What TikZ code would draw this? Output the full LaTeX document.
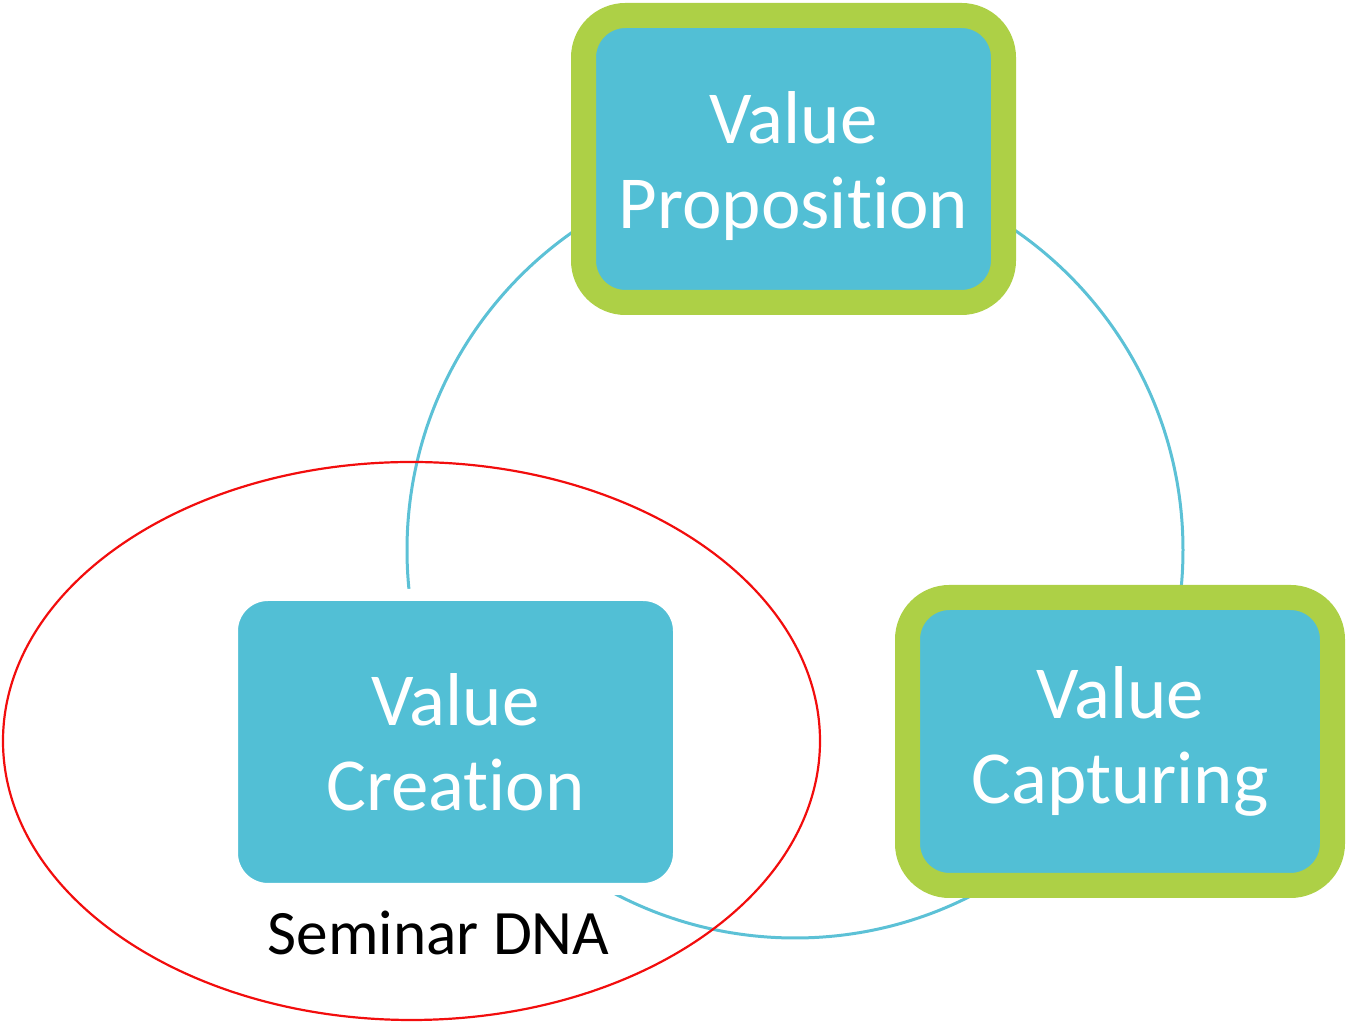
\documentclass[tikz,border=0pt]{standalone}
\usepackage{fontspec}
\setmainfont{Carlito}[Ligatures=NoCommon]
\definecolor{boxcyan}{HTML}{52BFD5}
\definecolor{boxgreen}{HTML}{ADD046}
\definecolor{ringcyan}{HTML}{5CC1D6}
\definecolor{dnared}{HTML}{F20D0D}
% taller first line, so the two lines sit a bit lower in the box
\newcommand{\toplift}{\rule{0pt}{19pt}}

\begin{document}
\begin{tikzpicture}[
    valuebox/.style={rectangle, fill=boxcyan, text=white, align=center,
                     font=\fontsize{21.3}{24.2}\selectfont},
    framed/.style={valuebox, draw=boxgreen, line width=0.25cm, rounded corners=0.42cm,
                   minimum width=4.2cm, minimum height=2.87cm},
    plain/.style={valuebox, draw=white, line width=0.12cm, rounded corners=0.36cm,
                  minimum width=4.47cm, minimum height=2.94cm},
    ring/.style={draw=ringcyan, line width=0.03cm},
    dna/.style={draw=dnared, line width=0.022cm}
]
    \useasboundingbox (0,0) rectangle (13.5,-10.23);

    % cycle behind the three boxes
    \coordinate (hub) at (7.95,-5.5);
    \draw[ring] (hub) circle (3.88cm);

    \node[framed] (prop) at (7.935,-1.59) {\toplift Value\\Proposition};
    \node[framed, minimum width=4.25cm, minimum height=2.88cm] (capt) at (11.2,-7.415) {Value\\Capturing};
    \node[plain] (crea) at (4.555,-7.42) {Value\\Creation};

    % the part covered by the seminar
    \coordinate (dnac) at (4.115,-7.41);
    \draw[dna] (dnac) ellipse [x radius=4.085cm, y radius=2.79cm];
    \node[anchor=base, font=\fontsize{18}{21}\selectfont] (dna) at (4.385,-9.55) {Seminar DNA};
\end{tikzpicture}
\end{document}
